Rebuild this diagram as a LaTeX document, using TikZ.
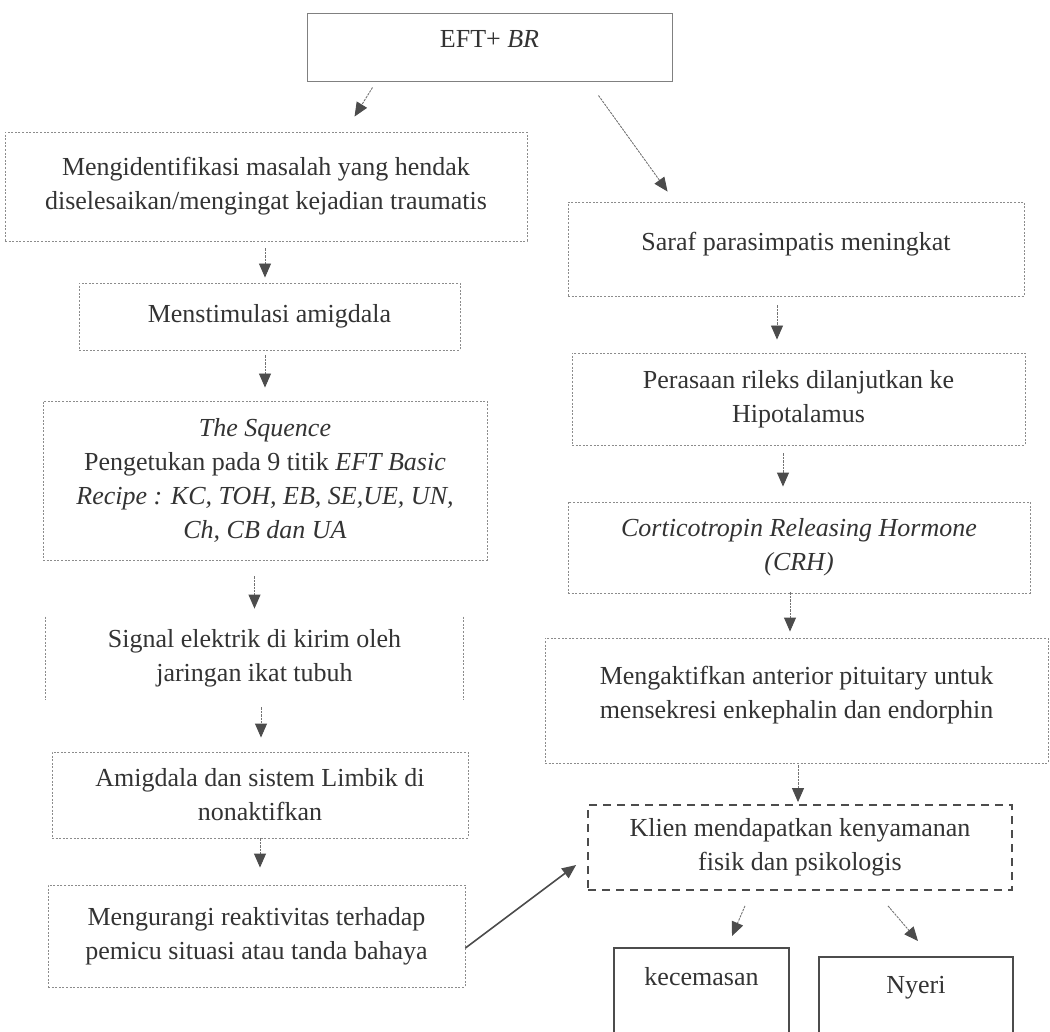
\documentclass[tikz,border=0pt]{standalone}
\usepackage{fontspec}
\setmainfont{Liberation Serif}
\usetikzlibrary{arrows.meta,calc,positioning}

\tikzset{
  txt/.style={align=center,text=black!80,font=\fontsize{13}{17}\selectfont,inner sep=2pt},
  dotbox/.style={txt,draw=black!45,line width=0.45pt,dash pattern=on 1pt off 0.8pt},
  dotline/.style={draw=black!45,line width=0.45pt,dash pattern=on 1pt off 0.8pt},
  linebox/.style={txt,draw=black!50,line width=0.5pt},
  dashbox/.style={txt,draw=black!70,line width=0.9pt,dash pattern=on 4pt off 3pt},
  endbox/.style={txt,draw=black!70,line width=1pt},
  arr/.style={draw=black!55,line width=0.45pt,dash pattern=on 1.2pt off 0.5pt,-{Triangle[length=7pt,width=6pt,color=black!70]}},
  arrsolid/.style={draw=black!70,line width=0.8pt,-{Triangle[length=7pt,width=6pt]}},
  lift/.style={text height=9pt,text depth=#1}
}

\begin{document}
\begin{tikzpicture}[x=0.5pt,y=-0.5pt]
       \useasboundingbox (0,0) rectangle (1050,1032);
       \clip (0,0) rectangle (1050,1032);
       % top
       \node[linebox,minimum width=182.5pt,minimum height=34pt,lift=9pt] (eft) at (489.5,48) {EFT+ \textit{BR}};
       % left column
       \node[dotbox,minimum width=261pt,minimum height=54.5pt] (ident) at (266,186.5)
            {Mengidentifikasi masalah yang hendak\\diselesaikan/mengingat kejadian traumatis};
       \node[dotbox,minimum width=190.5pt,minimum height=33.5pt] (stim) at (269.5,316.5) {Menstimulasi amigdala};
       \node[dotbox,minimum width=222pt,minimum height=79.5pt] (squence) at (265,480.5)
            {\textit{The Squence}\\Pengetukan pada 9 titik \textit{EFT Basic}\\\textit{Recipe : KC, TOH, EB, SE,UE, UN,}\\\textit{Ch, CB dan UA}};
       \node[txt,minimum width=208.5pt,minimum height=41.5pt] (signal) at (254.5,658.5)
            {Signal elektrik di kirim oleh\\jaringan ikat tubuh};
       \draw[dotline] (signal.north west) -- (signal.south west) (signal.north east) -- (signal.south east);
       \node[dotbox,minimum width=208pt,minimum height=43pt] (limbik) at (260,795)
            {Amigdala dan sistem Limbik di\\nonaktifkan};
       \node[dotbox,minimum width=208.5pt,minimum height=51pt] (reduce) at (256.5,936)
            {Mengurangi reaktivitas terhadap\\pemicu situasi atau tanda bahaya};
       % right column
       \node[dotbox,minimum width=228pt,minimum height=47pt,lift=7pt] (saraf) at (796,249) {Saraf parasimpatis meningkat};
       \node[dotbox,minimum width=226.5pt,minimum height=46pt] (rileks) at (798.5,399)
            {Perasaan rileks dilanjutkan ke\\Hipotalamus};
       \node[dotbox,minimum width=231pt,minimum height=45.5pt] (crh) at (799,547.5)
            {\textit{Corticotropin Releasing Hormone}\\\textit{(CRH)}};
       \node[dotbox,minimum width=251.5pt,minimum height=62.5pt] (pituitary) at (796.5,700.5)
            {Mengaktifkan anterior pituitary untuk\\mensekresi enkephalin dan endorphin\\[-9pt]\mbox{}};
       \node[dashbox,minimum width=212pt,minimum height=42.5pt] (klien) at (800,847.5)
            {Klien mendapatkan kenyamanan\\fisik dan psikologis};
       \node[endbox,minimum width=87.5pt,minimum height=49pt,lift=21pt] (cemas) at (701.5,997) {kecemasan};
       \node[endbox,minimum width=97pt,minimum height=44.5pt,lift=17.5pt] (nyeri) at (916,1001.5) {Nyeri};
       % connectors
       \draw[arr] ($(eft.south west)+(66,5)$) -- ($(ident.north west)+(350,-15)$);
       \draw[arr] ($(eft.south east)+(-74,13)$) -- ($(saraf.north west)+(100,-10)$);
       \draw[arr] ($(ident.south)+(-1,7)$) -- ($(stim.north -| ident.south)+(-1,-5)$);
       \draw[arr] ($(stim.south -| ident.south)+(-1,5)$) -- ($(squence.north -| ident.south)+(-1,-13)$);
       \draw[arr] ($(signal.north |- squence.south)+(0,16)$) -- ($(signal.north)+(0,-8)$);
       \draw[arr] ($(limbik.north |- signal.south)+(1,7)$) -- ($(limbik.north)+(1,-14)$);
       \draw[arr] (limbik.south) -- ($(limbik.south |- reduce.north)+(0,-17)$);
       \draw[arrsolid] ($(reduce.east)+(0,12)$) -- ($(klien.west)+(-11,17.5)$);
       \draw[arr] ($(saraf.south)+(-19,9)$) -- ($(saraf.south |- rileks.north)+(-19,-13)$);
       \draw[arr] ($(rileks.south)+(-15.5,8)$) -- ($(rileks.south |- crh.north)+(-15.5,-15)$);
       \draw[arr] ($(crh.south)+(-9,-1)$) -- ($(crh.south |- pituitary.north)+(-9,-6)$);
       \draw[arr] ($(pituitary.south)+(1.5,2)$) -- ($(klien.north)+(-2,-2)$);
       \draw[arr] ($(klien.south)+(-55,15)$) -- ($(cemas.north)+(30.5,-11)$);
       \draw[arr] ($(klien.south)+(88,15)$) -- ($(nyeri.north)+(2,-15)$);
     \end{tikzpicture}
\end{document}
